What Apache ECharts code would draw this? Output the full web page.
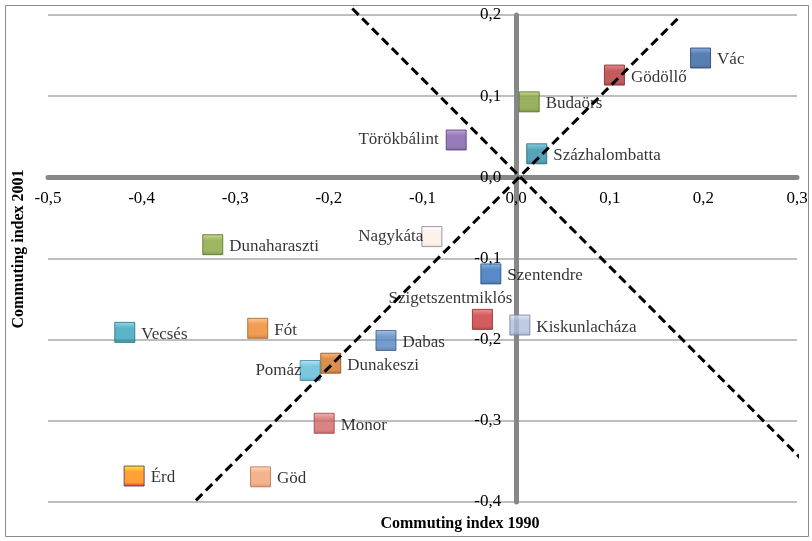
<!DOCTYPE html>
<html>
<head>
<meta charset="utf-8">
<style>
  html, body { margin: 0; padding: 0; background: #fff; }
  #chart { width: 812px; height: 541px; }
</style>
<script src="https://cdn.jsdelivr.net/npm/echarts@6/dist/echarts.min.js"></script>
</head>
<body>
<div id="chart"></div>
<script>
// towns, commuting index in 1990 (x) and 2001 (y)
const towns = ['Vác', 'Gödöllő', 'Budaörs', 'Törökbálint', 'Százhalombatta', 'Nagykáta',
  'Dunaharaszti', 'Szentendre', 'Szigetszentmiklós', 'Kiskunlacháza', 'Vecsés', 'Fót',
  'Dabas', 'Dunakeszi', 'Pomáz', 'Monor', 'Érd', 'Göd'];
const index1990 = [0.197, 0.105, 0.014, -0.064, 0.022, -0.090,
  -0.324, -0.027, -0.036, 0.004, -0.418, -0.276,
  -0.139, -0.198, -0.220, -0.205, -0.408, -0.273];
const index2001 = [0.147, 0.126, 0.093, 0.046, 0.029, -0.073,
  -0.083, -0.119, -0.175, -0.182, -0.191, -0.186,
  -0.201, -0.229, -0.238, -0.303, -0.368, -0.369];

// the two dashed guide lines (end points in data units)
const guideUp = [[-0.342, -0.398], [0.176, 0.1995]];
const guideDown = [[-0.175, 0.208], [0.316, -0.36]];

const xTicks = { min: -0.5, max: 0.3, step: 0.1 };
const yTicks = { min: -0.4, max: 0.2, step: 0.1 };

// marker look per town: [top, middle, bottom, border]
const markerColors = [
  ['#6f9ad6', '#2f5f9f', '#24487a', '#1f3f6b'],
  ['#e07070', '#b33232', '#8a2222', '#7a1e1e'],
  ['#b5cf6e', '#809d35', '#5f7726', '#566b22'],
  ['#ad90d0', '#7d5aa8', '#5d4080', '#553a75'],
  ['#6fc6dc', '#2b8ea8', '#1f6c80', '#1d6275'],
  ['#ffffff', '#fbeee3', '#efdccb', '#8b78a8'],
  ['#b5cf6e', '#85a43a', '#637b2a', '#566b22'],
  ['#6fa0e0', '#2e6db8', '#22528c', '#1f4a80'],
  ['#ee7a7a', '#c93434', '#9c2424', '#8a2020'],
  ['#dfe7f5', '#aebddb', '#8e9fc2', '#6f7f9f'],
  ['#7ad0e2', '#31a0b8', '#237a8e', '#1f6e80'],
  ['#ffc080', '#ec8529', '#c0661a', '#a85a18'],
  ['#90b2e2', '#5382c0', '#3d6498', '#385b8a'],
  ['#f2a860', '#d2731f', '#a45615', '#8f4c14'],
  ['#a8def0', '#5bb8d8', '#3f95b5', '#3a88a5'],
  ['#eea3a3', '#d06464', '#a84848', '#994040'],
  ['#ffe800', '#ff8a00', '#e00000', '#4b3060'],
  ['#ffd0a8', '#f0a070', '#cc7e50', '#b87048']
];
// label placement per town
const labelPlace = ['right', 'right', 'right', 'left', 'right', 'leftIn',
  'right', 'right', 'topLeft', 'right', 'right', 'right',
  'right', 'right', 'leftIn', 'right', 'right', 'right'];

const serif = 'Liberation Serif, Times New Roman, serif';
const fmt = v => v.toFixed(1).replace('.', ',').replace('-0,0', '0,0');

const grid = { left: 48, right: 15, top: 15, bottom: 39 };
const plotW = 812 - grid.left - grid.right;
const plotH = 541 - grid.top - grid.bottom;
// axes cross at zero: shift each axis from its grid edge to the zero line
const xAxisShift = -plotH * (0 - yTicks.min) / (yTicks.max - yTicks.min);
const yAxisShift = -plotW * (0 - xTicks.min) / (xTicks.max - xTicks.min);

function labelFor(place) {
  if (place === 'left') return { position: 'left', distance: 7 };
  if (place === 'leftIn') return { position: 'left', distance: -2 };
  if (place === 'topLeft') return { position: 'top', distance: 2, offset: [-32, 0] };
  return { position: 'right', distance: 6, offset: [0, 2] };
}

const points = towns.map((name, i) => {
  const c = markerColors[i];
  return {
    name,
    value: [index1990[i], index2001[i]],
    itemStyle: {
      color: {
        type: 'linear', x: 0, y: 0, x2: 0, y2: 1,
        colorStops: [
          { offset: 0, color: c[0] },
          { offset: 0.3, color: c[1] },
          { offset: 0.8, color: c[1] },
          { offset: 1, color: c[2] }
        ]
      },
      borderColor: c[3],
      borderWidth: 1
    },
    label: labelFor(labelPlace[i])
  };
});

const chart = echarts.init(document.getElementById('chart'));
chart.setOption({
  animation: false,
  backgroundColor: '#fff',
  textStyle: { fontFamily: serif },
  title: [
    {
      text: 'Commuting index 1990', left: 455, top: 511, textAlign: 'center',
      textStyle: { fontFamily: serif, fontSize: 16, fontWeight: 'bold', color: '#000' }
    }
  ],
  graphic: [
    {
      type: 'rect', shape: { x: 5.5, y: 5.5, width: 803, height: 531 },
      style: { fill: 'none', stroke: '#8c8c8c', lineWidth: 1 }, z: -10
    },
    {
      type: 'text', x: 19, y: 249, rotation: Math.PI / 2,
      style: {
        text: 'Commuting index 2001', font: 'bold 16px ' + serif,
        fill: '#000', align: 'center', verticalAlign: 'middle'
      }
    }
  ],
  grid,
  xAxis: {
    type: 'value',
    position: 'bottom',
    offset: xAxisShift,
    min: xTicks.min, max: xTicks.max, interval: xTicks.step,
    axisLine: { onZero: false, lineStyle: { color: '#878787', width: 5 } },
    axisTick: { show: false },
    splitLine: { show: false },
    axisLabel: { formatter: fmt, margin: 13, fontSize: 17, color: '#000', fontFamily: serif }
  },
  yAxis: {
    type: 'value',
    position: 'left',
    offset: yAxisShift,
    min: yTicks.min, max: yTicks.max, interval: yTicks.step,
    axisLine: { onZero: false, lineStyle: { color: '#878787', width: 5 } },
    axisTick: { show: false },
    splitLine: { show: true, lineStyle: { color: '#a8a8a8', width: 1.5 } },
    axisLabel: { formatter: fmt, margin: 15, fontSize: 17, color: '#000', fontFamily: serif }
  },
  series: [
    {
      type: 'scatter',
      symbol: 'rect',
      symbolSize: 20,
      data: points,
      z: 3,
      label: {
        show: true,
        formatter: '{b}',
        color: '#000',
        fontSize: 17,
        fontFamily: serif
      }
    },
    {
      type: 'line',
      data: guideUp,
      symbol: 'none',
      clip: false,
      z: 5,
      lineStyle: { color: '#000', width: 3, type: [9, 5] }
    },
    {
      type: 'line',
      data: guideDown,
      symbol: 'none',
      clip: false,
      z: 5,
      lineStyle: { color: '#000', width: 3, type: [9, 5] }
    }
  ]
});
</script>
</body>
</html>
